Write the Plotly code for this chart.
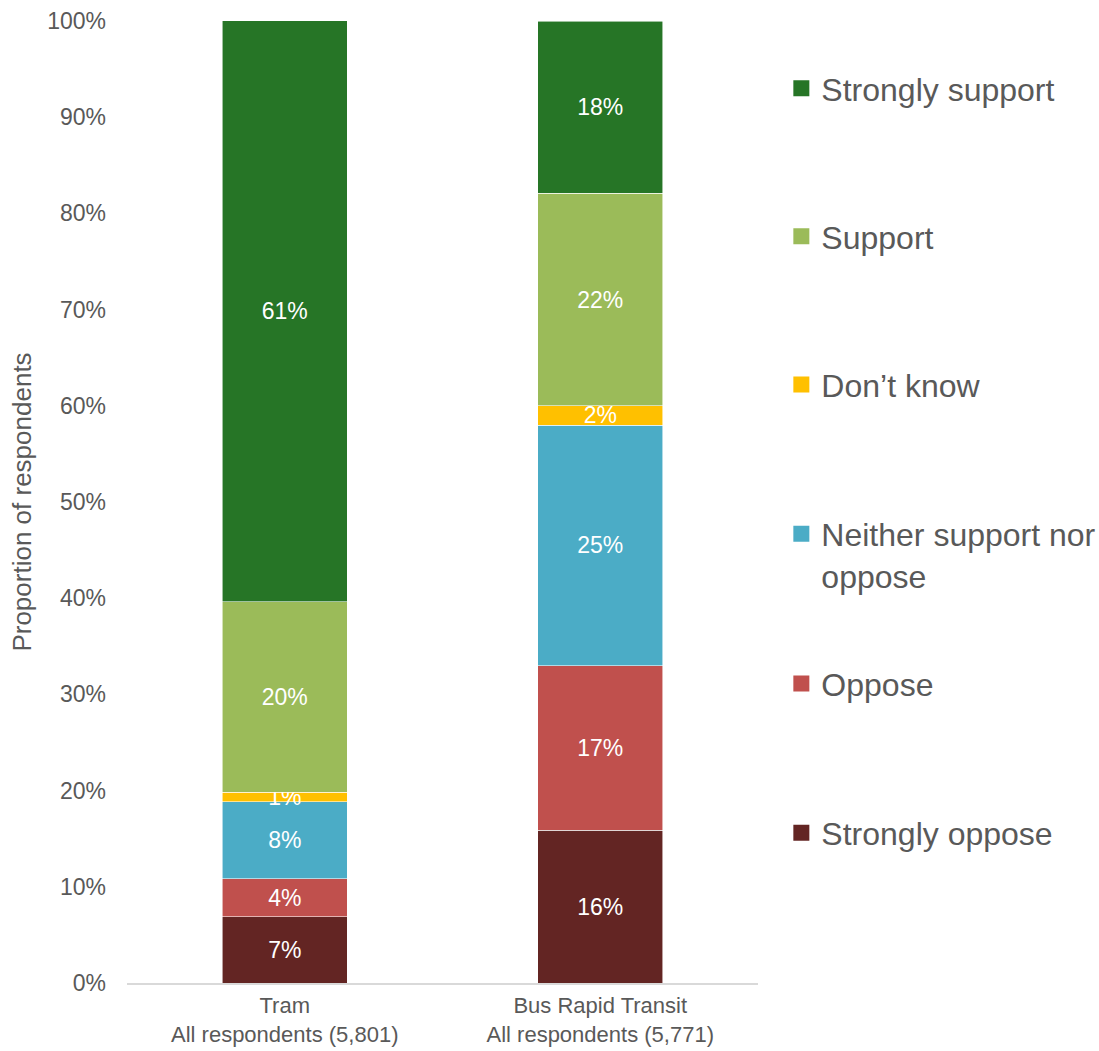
import plotly.graph_objects as go

categories = ["Tram<br>All respondents (5,801)", "Bus Rapid Transit<br>All respondents (5,771)"]
series_names = ["Strongly oppose", "Oppose", "Neither support nor oppose", "Don\u2019t know", "Support", "Strongly support"]
legend_names = ["Strongly oppose", "Oppose", "Neither support nor<br>oppose", "Don\u2019t know", "Support", "Strongly support"]
colors = ["#632523", "#C0504D", "#4BACC6", "#FFC000", "#9BBB59", "#267526"]

strongly_oppose = [6.9, 15.9]
oppose = [3.95, 17.1]
neither = [8.0, 25.0]
dont_know = [1.0, 2.0]
support = [19.8, 22.1]
strongly_support = [60.4, 17.9]

label_strongly_oppose = ["7%", "16%"]
label_oppose = ["4%", "17%"]
label_neither = ["8%", "25%"]
label_dont_know = ["1%", "2%"]
label_support = ["20%", "22%"]
label_strongly_support = ["61%", "18%"]

series_values = [strongly_oppose, oppose, neither, dont_know, support, strongly_support]
series_labels = [label_strongly_oppose, label_oppose, label_neither, label_dont_know,
                 label_support, label_strongly_support]

y_ticks = [0, 10, 20, 30, 40, 50, 60, 70, 80, 90, 100]
y_tick_labels = ["0%", "10%", "20%", "30%", "40%", "50%", "60%", "70%", "80%", "90%", "100%"]

FONT = "Liberation Sans, Arial, sans-serif"
GREY = "#595959"

fig = go.Figure()
for name, vals, labs, col in zip(series_names, series_values, series_labels, colors):
    fig.add_trace(go.Bar(
        x=categories, y=vals, name=name, text=labs,
        textposition="inside", insidetextanchor="middle", textangle=0,
        textfont=dict(color="white", size=23, family=FONT),
        marker=dict(color=col, line=dict(color="rgba(255,255,255,0.7)", width=0.8)),
        showlegend=False, hoverinfo="skip",
    ))

# legend entries (one legend per item so spacing matches)
legend_y = {"Strongly support": 0.930, "Support": 0.776, "Don\u2019t know": 0.622,
            "Neither support nor oppose": 0.445, "Oppose": 0.311, "Strongly oppose": 0.156}
legend_layouts = {}
for i, (name, lname, col) in enumerate(zip(series_names, legend_names, colors)):
    lid = "legend" if i == 0 else f"legend{i+1}"
    fig.add_trace(go.Scatter(
        x=[None], y=[None], mode="markers", name=lname,
        marker=dict(symbol="square", size=16, color=col),
        showlegend=True, legend=lid, hoverinfo="skip",
    ))
    legend_layouts[lid] = dict(
        x=1.037, xanchor="left", y=legend_y[name], yanchor="middle",
        font=dict(family=FONT, size=32, color=GREY),
        bgcolor="rgba(0,0,0,0)", itemwidth=30, valign="top",
    )

fig.update_layout(
    barmode="stack",
    bargap=0.604,
    width=1099, height=1051,
    margin=dict(l=127, r=341, t=21, b=68, autoexpand=False),
    plot_bgcolor="white", paper_bgcolor="white",
    font=dict(family=FONT, color=GREY, size=23),
    uniformtext=dict(minsize=23, mode="show"),
    xaxis=dict(showline=True, linecolor="#D9D9D9", linewidth=1.5, ticks="",
               ticklabelstandoff=2,
               tickfont=dict(size=22, color=GREY), showgrid=False, fixedrange=True),
    yaxis=dict(range=[0, 100], tickmode="array", tickvals=y_ticks, ticktext=y_tick_labels,
               showgrid=False, zeroline=False, showline=False, ticks="", ticklabelstandoff=20,
               tickfont=dict(size=23, color=GREY),
               title=dict(text="Proportion of respondents", font=dict(size=26, color=GREY), standoff=8)),
    **legend_layouts,
)

fig.write_html("out.html")
